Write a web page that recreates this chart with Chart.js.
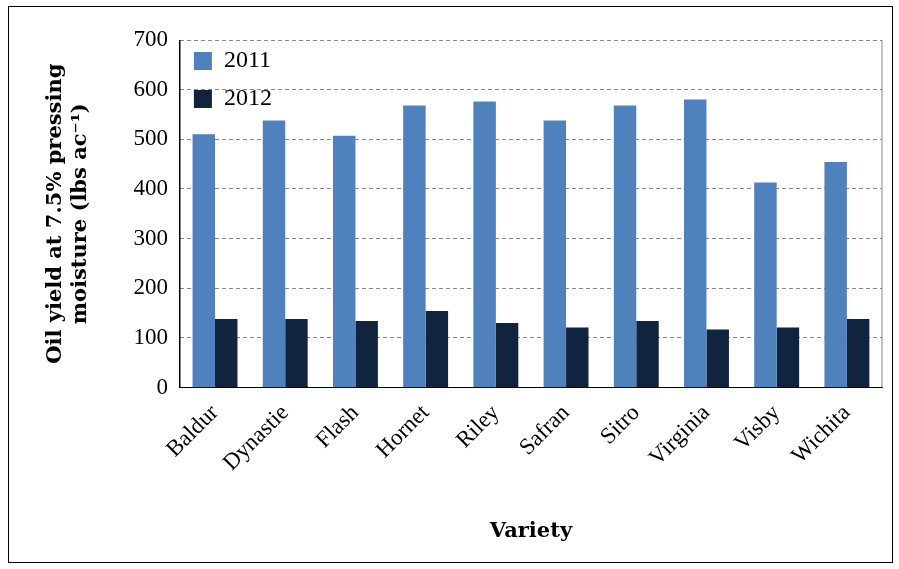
<!DOCTYPE html>
<html>
<head>
<meta charset="utf-8">
<script src="https://cdn.jsdelivr.net/npm/chart.js@4.4.0/dist/chart.umd.min.js"></script>
<style>
  body { margin: 0; background: #fff; }
  #wrap { position: absolute; left: 8px; top: 6px; width: 885px; height: 557px; border: 1.5px solid #000; box-sizing: border-box; }
</style>
</head>
<body>
<div id="wrap"><canvas id="chart"></canvas></div>
<script>
const varieties = ['Baldur', 'Dynastie', 'Flash', 'Hornet', 'Riley', 'Safran', 'Sitro', 'Virginia', 'Visby', 'Wichita'];
const yield2011 = [510, 538, 507, 568, 576, 538, 568, 580, 413, 454];
const yield2012 = [138, 138, 134, 154, 130, 121, 134, 117, 121, 138];

const serif = 'Liberation Serif';

new Chart(document.getElementById('chart'), {
  type: 'bar',
  data: {
    labels: varieties,
    datasets: [
      { label: '2011', data: yield2011, backgroundColor: '#4f81bd', categoryPercentage: 0.64, barPercentage: 1 },
      { label: '2012', data: yield2012, backgroundColor: '#10243f', categoryPercentage: 0.64, barPercentage: 1 }
    ]
  },
  options: {
    responsive: true,
    maintainAspectRatio: false,
    animation: false,
    layout: { padding: { top: 33, right: 10, bottom: 14, left: 30 } },
    plugins: {
      legend: {
        position: 'chartArea',
        align: 'start',
        title: { display: true, text: ' ', font: { size: 10 }, padding: 8 },
        labels: { font: { family: serif, size: 24 }, color: '#000', boxWidth: 18, boxHeight: 18, padding: 14 }
      },
      tooltip: { enabled: false }
    },
    scales: {
      x: {
        grid: { display: false },
        border: { color: '#000' },
        ticks: { color: '#000', font: { family: serif, size: 23 }, maxRotation: 45, minRotation: 45, padding: 4 },
        title: { display: true, text: 'Variety', color: '#000', font: { family: 'DejaVu Serif', size: 21, weight: 'bold' }, padding: { top: 38 } }
      },
      y: {
        min: 0, max: 700,
        ticks: { stepSize: 100, color: '#000', font: { family: serif, size: 23 }, padding: 12 },
        grid: { color: '#888', tickLength: 0 },
        border: { color: '#000', dash: [4, 3] },
        title: { display: true, text: ['Oil yield at 7.5% pressing', 'moisture (lbs ac\u207B\u00B9)'], color: '#000', font: { family: 'DejaVu Serif', size: 21, weight: 'bold' }, padding: { bottom: 28 } }
      }
    }
  },
  plugins: [{
    id: 'axisLine',
    afterDraw(c) {
      const a = c.chartArea, ctx = c.ctx;
      ctx.save();
      ctx.strokeStyle = '#000'; ctx.lineWidth = 1.2;
      ctx.beginPath(); ctx.moveTo(a.left, a.top); ctx.lineTo(a.left, a.bottom); ctx.stroke();
      ctx.strokeStyle = '#888'; ctx.lineWidth = 1;
      ctx.beginPath(); ctx.moveTo(a.right, a.top); ctx.lineTo(a.right, a.bottom); ctx.stroke();
      ctx.restore();
    }
  }]
});
</script>
</body>
</html>
